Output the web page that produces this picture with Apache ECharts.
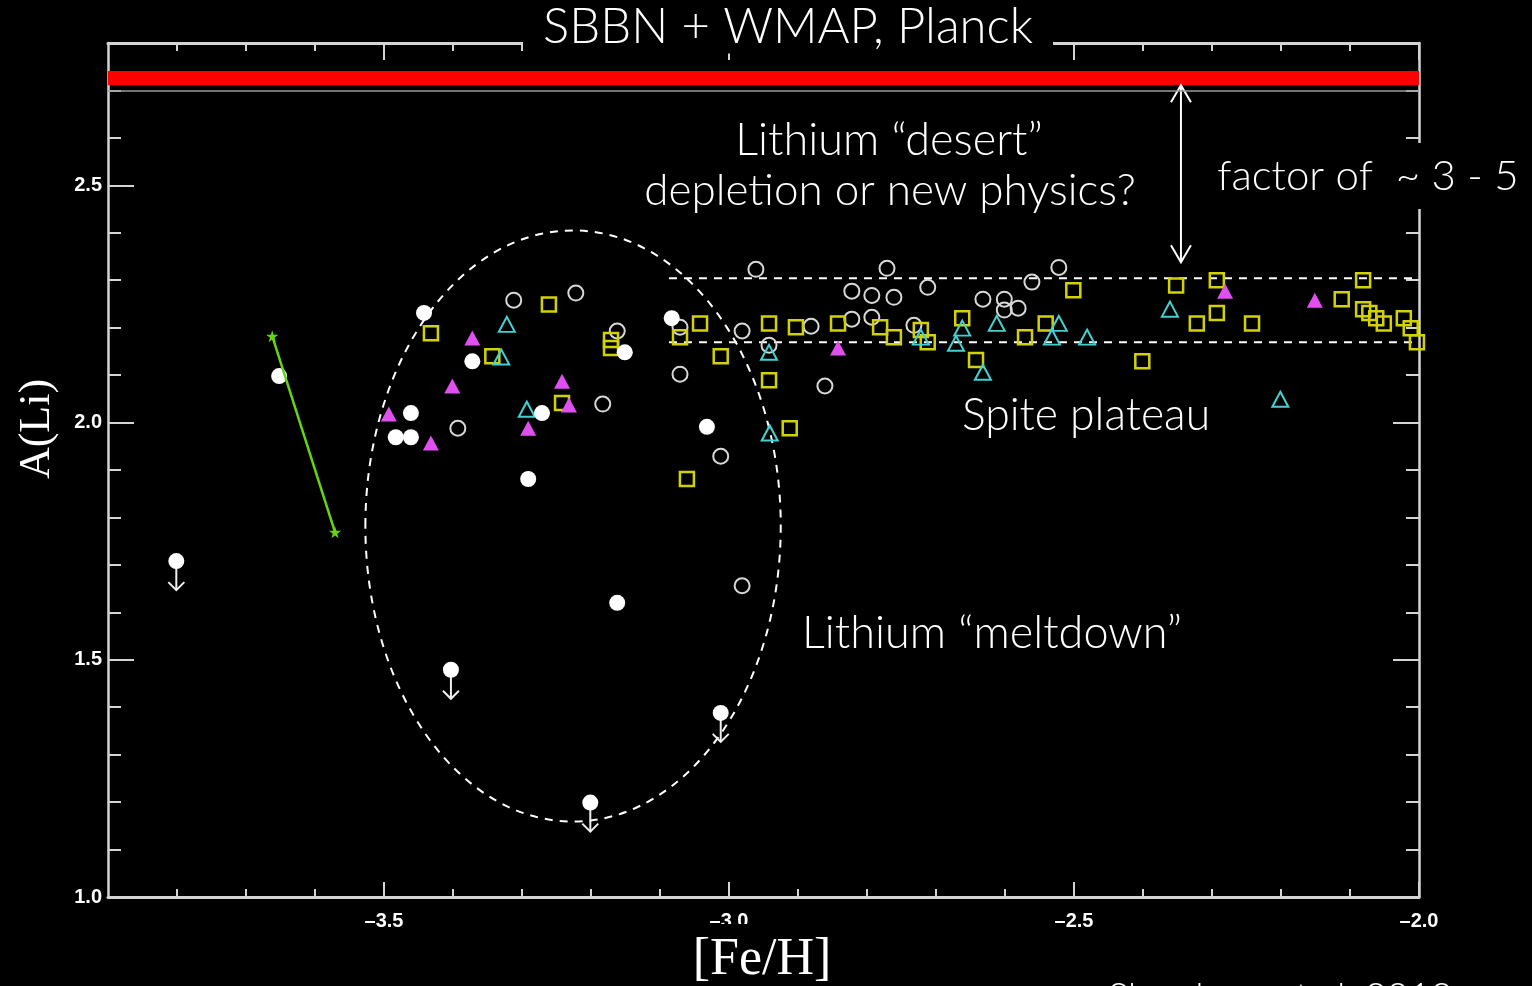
<!DOCTYPE html>
<html><head><meta charset="utf-8">
<script src="https://cdn.jsdelivr.net/npm/echarts@6/dist/echarts.min.js"></script>
<style>html,body{margin:0;padding:0;background:#000;overflow:hidden}#c{width:1532px;height:986px}</style>
</head><body><div id="c"></div>
<script>
// ---- axis ticks ----
const xMajorTicks = [-3.5, -3.0, -2.5, -2.0];
const xMinorTicks = [-3.8, -3.7, -3.6, -3.4, -3.3, -3.2, -3.1, -2.9, -2.8, -2.7, -2.6, -2.4, -2.3, -2.2, -2.1];
const yMajorTicks = [1.0, 1.5, 2.0, 2.5];
const yMinorTicks = [1.1, 1.2, 1.3, 1.4, 1.6, 1.7, 1.8, 1.9, 2.1, 2.2, 2.3, 2.4, 2.6, 2.7];
const xRange = [-3.9, -2.0];
const yRange = [1.0, 2.8];

// ---- data ([Fe/H], A(Li)) ----
const filledCircles = [
  [-3.442,2.231],[-3.372,2.129],[-3.461,2.020],[-3.483,1.969],[-3.461,1.969],[-3.271,2.020],
  [-3.291,1.881],[-3.151,2.148],[-3.083,2.220],[-3.032,1.991],[-3.162,1.620],[-3.652,2.098]
];
const upperLimits = [[-3.801,1.708],[-3.403,1.479],[-3.012,1.388],[-3.201,1.199]];
const openCircles = [
  [-3.312,2.258],[-3.222,2.273],[-3.393,1.988],[-3.183,2.039],[-3.162,2.193],[-3.071,2.201],
  [-2.981,2.193],[-3.071,2.102],[-3.012,1.929],[-2.961,2.323],[-2.942,2.163],[-2.881,2.203],
  [-2.861,2.077],[-2.822,2.277],[-2.822,2.218],[-2.793,2.268],[-2.793,2.222],[-2.771,2.325],
  [-2.761,2.264],[-2.732,2.205],[-2.712,2.285],[-2.632,2.260],[-2.601,2.260],[-2.601,2.237],
  [-2.581,2.241],[-2.561,2.296],[-2.522,2.327],[-2.981,1.656]
];
const squares = [
  [-3.432,2.188],[-3.261,2.249],[-3.343,2.140],[-3.242,2.041],[-3.171,2.174],[-3.171,2.157],
  [-3.071,2.180],[-3.042,2.209],[-3.012,2.140],[-2.942,2.209],[-2.942,2.089],[-3.061,1.881],
  [-2.903,2.201],[-2.842,2.209],[-2.781,2.201],[-2.761,2.180],[-2.722,2.195],[-2.712,2.169],
  [-2.662,2.220],[-2.642,2.132],[-2.571,2.180],[-2.541,2.209],[-2.501,2.279],[-2.912,1.988],
  [-2.401,2.129],[-2.352,2.289],[-2.293,2.300],[-2.322,2.209],[-2.293,2.231],[-2.242,2.209],
  [-2.112,2.260],[-2.081,2.300],[-2.081,2.239],[-2.072,2.231],[-2.062,2.220],[-2.051,2.209],
  [-2.022,2.220],[-2.012,2.199],[-2.003,2.169]
];
const cyanTriangles = [
  [-3.322,2.207],[-3.330,2.138],[-3.293,2.028],[-2.942,2.148],[-2.941,1.978],[-2.722,2.180],
  [-2.662,2.199],[-2.671,2.167],[-2.632,2.106],[-2.612,2.209],[-2.522,2.209],[-2.532,2.180],
  [-2.481,2.180],[-2.361,2.239],[-2.201,2.049]
];
const magentaTriangles = [
  [-3.372,2.178],[-3.401,2.077],[-3.493,2.018],[-3.432,1.957],[-3.291,1.988],[-3.242,2.087],
  [-3.232,2.037],[-2.842,2.157],[-2.281,2.277],[-2.151,2.258]
];
const greenSegment = [[-3.662,2.182],[-3.571,1.769]];

// ---- annotations (data units) ----
const sbbnBand = [2.711, 2.741];
const sbbnUnderline = 2.704;
const plateauLevels = [2.304, 2.169];
const plateauX = [-3.087, -2.0];
const meltdownEllipse = [-3.226, 1.782, 0.301, 0.623]; // cx, cy, rx, ry
const factorArrow = [-2.345, 2.711, 2.338]; // x, top, bottom

const frameColor = '#d4d4d4';
const labelFont = {color:'#fff', fontSize:20, fontWeight:'bold', fontFamily:'Liberation Sans'};
const fmt = v => (v < 0 ? '\u2013' : '') + Math.abs(v).toFixed(1);

function xAx(position, ticks, len, lineW, withLabels){
  return {type:'value', position, min:xRange[0], max:xRange[1],
    axisLine:{show:lineW>0, onZero:false, lineStyle:{color:frameColor, width:lineW}},
    axisTick:{show:true, inside:true, length:len, customValues:ticks, lineStyle:{color:frameColor, width:2}},
    axisLabel:Object.assign({show:withLabels, customValues:ticks, margin:14, formatter:fmt}, labelFont),
    splitLine:{show:false}};
}
function yAx(position, ticks, len, lineW, withLabels){
  return {type:'value', position, min:yRange[0], max:yRange[1],
    axisLine:{show:lineW>0, onZero:false, lineStyle:{color:frameColor, width:lineW}},
    axisTick:{show:true, inside:true, length:len, customValues:ticks, lineStyle:{color:frameColor, width:2}},
    axisLabel:Object.assign({show:withLabels, customValues:ticks, margin:6, formatter:fmt}, labelFont),
    splitLine:{show:false}};
}

const starPath = 'path://M50,0 L61,35 L98,35 L68,57 L79,91 L50,70 L21,91 L32,57 L2,35 L39,35 Z';
const annFont = {fill:'#fff', fontFamily:'Lato', fontWeight:300, align:'center', verticalAlign:'middle'};

const chart = echarts.init(document.getElementById('c'));
const option = {
  backgroundColor:'#000',
  animation:false,
  grid:{left:108, right:113, top:43, bottom:89, containLabel:false},
  xAxis:[
    xAx('bottom', xMajorTicks, 15, 3, true),
    xAx('bottom', xMinorTicks, 8, 0, false),
    xAx('top', xMajorTicks, 17, 3, false),
    xAx('top', xMinorTicks, 8, 0, false)
  ],
  yAxis:[
    yAx('left', yMajorTicks, 26, 2.5, true),
    yAx('left', yMinorTicks, 13, 0, false),
    yAx('right', yMajorTicks, 26, 2.5, false),
    yAx('right', yMinorTicks, 13, 0, false)
  ],
  series:[
    {type:'line', data:[], markArea:{silent:true, itemStyle:{color:'#ff0000', opacity:1},
        data:[[{yAxis:sbbnBand[0]},{yAxis:sbbnBand[1]}]]},
     markLine:{silent:true, symbol:'none', label:{show:false},
        lineStyle:{color:'#9a9a9a', width:1.5, type:'solid'}, data:[{yAxis:sbbnUnderline}]}},
    {type:'custom', data:[meltdownEllipse], encode:{x:0, y:1}, silent:true, z:1,
     renderItem:(params, api)=>{
       const c = api.coord([api.value(0), api.value(1)]);
       const s = api.size([api.value(2), api.value(3)], [api.value(0), api.value(1)]);
       return {type:'ellipse', shape:{cx:c[0], cy:c[1], rx:s[0], ry:s[1]},
         style:{fill:'none', stroke:'#fff', lineWidth:2, lineDash:[8,7]}};
     }},
    ...plateauLevels.map(v=>({type:'line', data:[[plateauX[0], v],[plateauX[1], v]], symbol:'none', silent:true, z:1,
        lineStyle:{color:'#fff', width:2, type:[8,7]}})),
    {type:'custom', data:[factorArrow], encode:{x:0, y:[1,2]}, silent:true,
     renderItem:(params, api)=>{
       const t = api.coord([api.value(0), api.value(1)]);
       const b = api.coord([api.value(0), api.value(2)]);
       const st = {fill:'none', stroke:'#fff', lineWidth:2};
       return {type:'group', children:[
         {type:'line', shape:{x1:t[0], y1:t[1], x2:b[0], y2:b[1]}, style:st},
         {type:'polyline', shape:{points:[[t[0]-10,t[1]+17],[t[0],t[1]],[t[0]+10,t[1]+17]]}, style:st},
         {type:'polyline', shape:{points:[[b[0]-10,b[1]-17],[b[0],b[1]],[b[0]+10,b[1]-17]]}, style:st}
       ]};
     }},
    {type:'line', data:greenSegment, symbol:starPath, symbolSize:12, silent:true,
     lineStyle:{color:'#66d414', width:2.5}, itemStyle:{color:'#66d414', opacity:1}},
    {type:'scatter', data:openCircles, symbol:'circle', symbolSize:15, silent:true,
     itemStyle:{color:'none', borderColor:'#d8d8d8', borderWidth:2, opacity:1}},
    {type:'scatter', data:squares, symbol:'rect', symbolSize:14, silent:true,
     itemStyle:{color:'none', borderColor:'#d2d200', borderWidth:2.5, opacity:1}},
    {type:'scatter', data:cyanTriangles, symbol:'triangle', symbolSize:[16,15], silent:true,
     itemStyle:{color:'none', borderColor:'#45d0d0', borderWidth:2, opacity:1}},
    {type:'scatter', data:magentaTriangles, symbol:'triangle', symbolSize:[16,15], silent:true,
     itemStyle:{color:'#e050f0', opacity:1}},
    {type:'scatter', data:filledCircles, symbol:'circle', symbolSize:16, silent:true,
     itemStyle:{color:'#ffffff', opacity:1}},
    {type:'custom', data:upperLimits, encode:{x:0, y:1}, silent:true,
     renderItem:(params, api)=>{
       const p = api.coord([api.value(0), api.value(1)]);
       const st = {fill:'none', stroke:'#f0f0f0', lineWidth:2};
       return {type:'group', children:[
         {type:'line', shape:{x1:p[0], y1:p[1], x2:p[0], y2:p[1]+29}, style:st},
         {type:'polyline', shape:{points:[[p[0]-8,p[1]+21],[p[0],p[1]+29],[p[0]+8,p[1]+21]]}, style:st}
       ]};
     }},
    {type:'scatter', data:upperLimits, symbol:'circle', symbolSize:16, silent:true,
     itemStyle:{color:'#ffffff', opacity:1}}
  ],
  graphic:[
    {type:'text', z:100, x:788, y:27, style:Object.assign({text:'SBBN + WMAP, Planck', fontSize:49,
      backgroundColor:'#000', padding:[2,20]}, annFont)},
    {type:'text', z:100, x:889, y:140, style:Object.assign({text:'Lithium \u201cdesert\u201d', fontSize:45}, annFont)},
    {type:'text', z:100, x:890, y:191, style:Object.assign({text:'depletion or new physics?', fontSize:44}, annFont)},
    {type:'text', z:100, x:1368, y:176, style:Object.assign({text:'factor of  ~ 3 - 5', fontSize:42,
      backgroundColor:'#000', padding:[12,8]}, annFont)},
    {type:'text', z:100, x:1086, y:416, style:Object.assign({text:'Spite plateau', fontSize:44.5}, annFont)},
    {type:'text', z:100, x:992, y:633, style:Object.assign({text:'Lithium \u201cmeltdown\u201d', fontSize:45}, annFont)},
    {type:'text', z:100, x:37, y:429, rotation:Math.PI/2, style:{text:'A(Li)', fill:'#fff', fontSize:44,
      fontFamily:'Liberation Serif', align:'center', verticalAlign:'middle'}},
    {type:'text', z:100, x:762, y:960, style:{text:'[Fe/H]', fill:'#fff', fontSize:52,
      fontFamily:'Liberation Serif', align:'center', verticalAlign:'middle', backgroundColor:'#000', padding:[16,6,4,6]}},
    {type:'text', z:100, x:1108, y:979, style:{text:'Sbordone et al. 2010', fill:'#fff', fontSize:38,
      fontFamily:'Lato', fontWeight:300, align:'left', verticalAlign:'top'}}
  ]
};
chart.setOption(option);
</script></body></html>
